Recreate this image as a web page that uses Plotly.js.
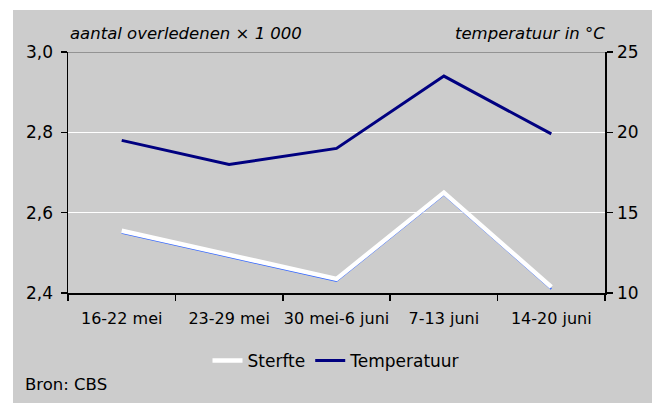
<!DOCTYPE html>
<html>
<head>
<meta charset="utf-8">
<script src="https://cdn.plot.ly/plotly-3.0.1.min.js"></script>
<style>html,body{margin:0;padding:0;background:#fff;}#chart{width:654px;height:403px;}</style>
</head>
<body>
<div id="chart"></div>
<script>
const weeks = ["16-22 mei", "23-29 mei", "30 mei-6 juni", "7-13 juni", "14-20 juni"];
const sterfte = [2.55, 2.49, 2.43, 2.645, 2.41];
const temperatuur = [19.5, 18.0, 19.0, 23.5, 19.9];
const leftTicks = [2.4, 2.6, 2.8, 3.0];
const rightTicks = [10, 15, 20, 25];

const FONT = "DejaVu Sans, Liberation Sans, Arial, sans-serif";
const SHIFT = 0.005; // white highlight drawn slightly above the blue line

const traces = [
  {x: weeks, y: sterfte, type: "scatter", mode: "lines", name: "Sterfte blue",
   line: {color: "#3366ff", width: 2}, showlegend: false, hoverinfo: "skip"},
  {x: weeks, y: sterfte, type: "scatter", mode: "lines", name: "Sterfte",
   yaxis: "y3", line: {color: "#ffffff", width: 4.5}},
  {x: weeks, y: temperatuur, type: "scatter", mode: "lines", name: "Temperatuur",
   yaxis: "y2", line: {color: "#000080", width: 3}}
];

const layout = {
  width: 654, height: 403,
  margin: {l: 68, r: 49, t: 52, b: 110, pad: 0},
  paper_bgcolor: "#ffffff",
  plot_bgcolor: "rgba(0,0,0,0)",
  separators: ", ",
  font: {family: FONT, size: 17, color: "#000"},
  showlegend: true,
  legend: {orientation: "h", x: 0.5, xanchor: "center", y: -0.282, yanchor: "middle",
           bgcolor: "rgba(0,0,0,0)", font: {family: FONT, size: 17, color: "#000"}},
  xaxis: {type: "category", range: [-0.5, 4.5], tickson: "boundaries",
          ticks: "outside", ticklen: 6, tickcolor: "#000", tickwidth: 1.5,
          showline: true, linecolor: "#000", linewidth: 1.5, showgrid: false,
          tickangle: 0, tickfont: {family: FONT, size: 16, color: "#000"},
          zeroline: false, ticklabelstandoff: 10, fixedrange: true},
  yaxis: {range: [2.4, 3.0], tickvals: leftTicks, tickformat: ".1f",
          ticks: "outside", ticklen: 6, tickcolor: "#000", tickwidth: 1.5,
          showline: true, linecolor: "#000", linewidth: 1.5,
          showgrid: true, gridcolor: "#ffffff", gridwidth: 1.5,
          zeroline: false, ticklabelstandoff: 4},
  yaxis2: {range: [10, 25], tickvals: rightTicks, overlaying: "y", side: "right",
           ticks: "outside", ticklen: 6, tickcolor: "#000", tickwidth: 1.5,
           showline: true, linecolor: "#000", linewidth: 1.5,
           showgrid: false, zeroline: false, ticklabelstandoff: 1},
  yaxis3: {range: [2.4 - SHIFT, 3.0 - SHIFT], overlaying: "y", visible: false},
  shapes: [
    {type: "rect", xref: "paper", yref: "paper", x0: -0.1024, x1: 1.0875, y0: -0.46, y1: 1.174,
     fillcolor: "#cccccc", line: {width: 0}, layer: "below"},
    {type: "line", xref: "paper", yref: "y", x0: 0, x1: 1, y0: 3.0, y1: 3.0,
     line: {color: "#808080", width: 1.5}, layer: "above"}
  ],
  annotations: [
    {text: "aantal overledenen × 1 000", xref: "paper", yref: "paper", x: 0, y: 1.0788,
     xanchor: "left", yanchor: "middle", showarrow: false,
     font: {family: FONT, size: 16.5, color: "#000", style: "italic"}},
    {text: "temperatuur in °C", xref: "paper", yref: "paper", x: 1.0037, y: 1.0788,
     xanchor: "right", yanchor: "middle", showarrow: false,
     font: {family: FONT, size: 16.5, color: "#000", style: "italic"}},
    {text: "Bron: CBS", xref: "paper", yref: "paper", x: -0.0838, y: -0.378,
     xanchor: "left", yanchor: "middle", showarrow: false,
     font: {family: FONT, size: 16.5, color: "#000"}}
  ]
};

Plotly.newPlot("chart", traces, layout, {displayModeBar: false, staticPlot: true});
</script>
</body>
</html>
